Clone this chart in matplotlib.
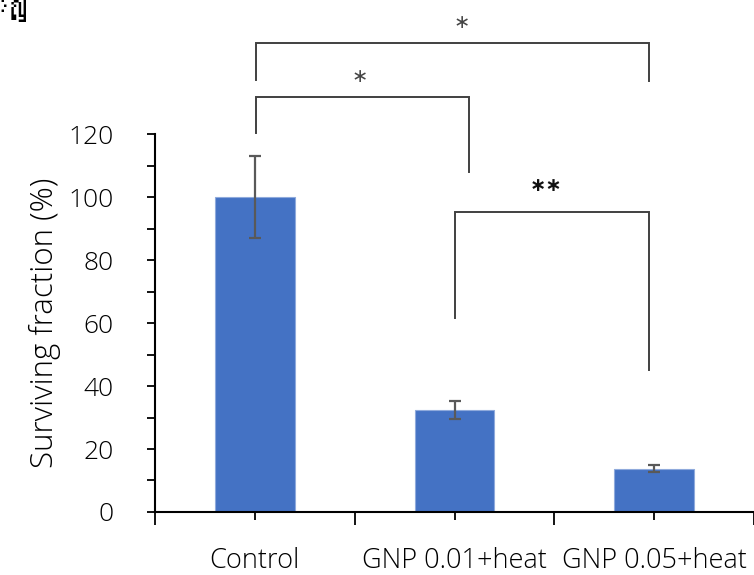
import matplotlib
matplotlib.use('Agg')
import matplotlib.pyplot as plt
from matplotlib import font_manager
from matplotlib.ft2font import FT2Font
from matplotlib.ticker import MultipleLocator, FixedLocator

# --- Data ---
groups    = ['Control', 'GNP 0.01+heat', 'GNP 0.05+heat']
surviving = [100.0, 32.3, 13.8]
errors    = [13.0, 2.8, 1.2]

# significance brackets: (left x, right x, bar height, left drop, right drop)
brackets = [
    (0.005, 1.075, 131.7, 120.3, 107.9),
    (0.005, 1.975, 148.9, 137.1, 136.8),
    (1.000, 1.975, 95.2, 61.6, 45.1),
]
# star labels: (x, y, text, bold)
stars = [
    (0.525, 138.4, '∗', False),
    (1.035, 155.6, '∗', False),
    (1.46, 103.8, '∗∗', True),
]

BAR_COLOR  = '#4472C4'
ERR_COLOR  = '#595959'
LINE_COLOR = '#404040'
FONT       = ['Open Sans', 'Lato', 'DejaVu Sans']
CORNER_TXT = 'สำคัญ'


def find_thai_family():
    # look through installed fonts for one that has Thai glyphs
    for path in font_manager.findSystemFonts():
        try:
            cmap = FT2Font(path).get_charmap()
        except Exception:
            continue
        if all(ord(c) in cmap for c in CORNER_TXT):
            return font_manager.FontProperties(fname=path).get_name()
    return None


plt.rcParams['font.family'] = FONT

fig = plt.figure(figsize=(7.54, 5.75), dpi=100)
ax = fig.add_axes([0.2056, 0.1096, 0.7944, 0.657])

x = list(range(len(groups)))
ax.bar(x, surviving, width=0.4, color=BAR_COLOR, edgecolor='#8FAADC', linewidth=0.8,
       yerr=errors, error_kw=dict(ecolor=ERR_COLOR, elinewidth=1.6, capsize=4.5, capthick=1.6))

ax.set_xlim(-0.5, 2.5)
ax.set_ylim(0, 120)

for side in ['top', 'right']:
    ax.spines[side].set_visible(False)
for side in ['left', 'bottom']:
    ax.spines[side].set_linewidth(1.5)
    ax.spines[side].set_color('black')

ax.yaxis.set_major_locator(MultipleLocator(20))
ax.yaxis.set_minor_locator(MultipleLocator(10))
ax.tick_params(axis='y', which='both', direction='out', length=6, width=1.3, pad=24,
               labelsize=19)
for lbl in ax.get_yticklabels():
    lbl.set_fontweight('light')

ax.set_xticks(x)
ax.set_xticklabels(groups, fontweight='light')
ax.xaxis.set_minor_locator(FixedLocator([-0.5, 0.5, 1.5, 2.5]))
ax.tick_params(axis='x', which='major', direction='out', length=6, width=1.3, pad=19,
               labelsize=19.5)
ax.tick_params(axis='x', which='minor', direction='out', length=9, width=1.3)

ax.set_ylabel('Surviving fraction (%)', fontsize=22.5, fontweight='light', labelpad=5)

# significance brackets
for x1, x2, top, d1, d2 in brackets:
    ax.plot([x1, x1, x2, x2], [d1, top, top, d2], color=LINE_COLOR, lw=1.4,
            clip_on=False, solid_joinstyle='miter')

for sx, sy, txt, bold in stars:
    ax.text(sx, sy, txt, ha='center', va='center', fontsize=14,
            color='#111111' if bold else '#444444', family='DejaVu Sans',
            fontweight='bold' if bold else 'normal', clip_on=False)

# cropped caption text at the top-left corner (cut off in the original too)
thai = find_thai_family()
fams = [thai, 'DejaVu Sans'] if thai else ['DejaVu Sans']
fig.text(29 / 754, 1 - 20 / 575, CORNER_TXT, ha='right', va='baseline', fontsize=28,
         family=fams, color='black')

fig.savefig('out.png', dpi=100)
